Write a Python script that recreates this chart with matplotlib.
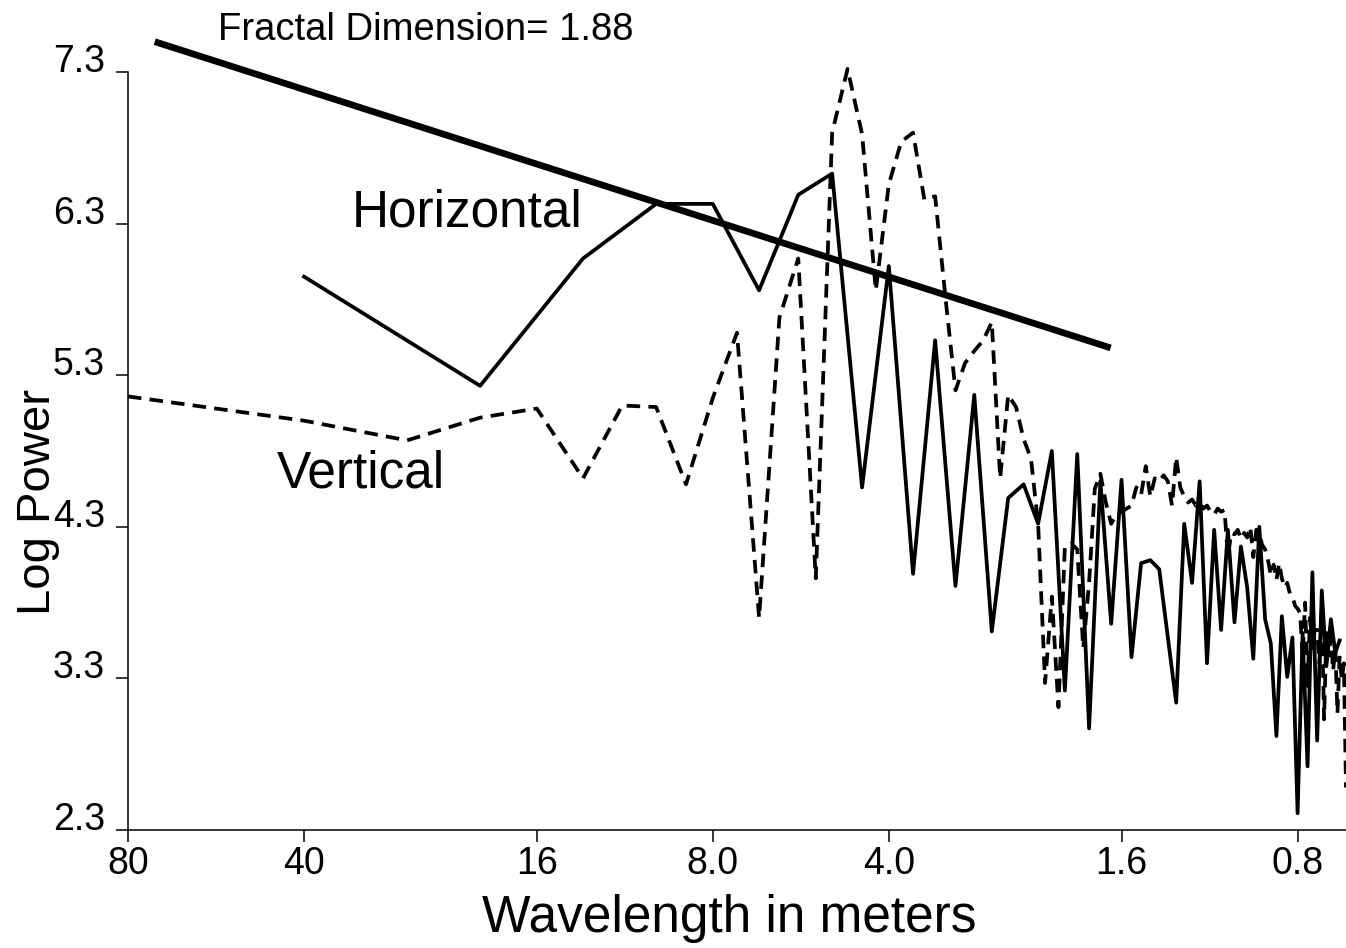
import numpy as np
import matplotlib
matplotlib.use('Agg')
import matplotlib.pyplot as plt
from matplotlib.ticker import NullLocator

plt.rcParams['font.family'] = ['Liberation Sans', 'DejaVu Sans']

# Vertical profile: harmonics 1..121 of an 80 m record
vertical_harm = np.arange(1, 122)
vertical_power = [
    5.16, 5.00, 4.87, 5.02, 5.08, 4.62, 5.10, 5.09, 4.58, 5.15,
    5.58, 3.70, 5.68, 6.07, 3.96, 6.90, 7.32, 6.89, 5.86, 6.56,
    6.84, 6.90, 6.46, 6.48, 5.81, 5.20, 5.38, 5.46, 5.53, 5.65,
    4.62, 5.17, 5.09, 4.88, 4.75, 4.32, 3.27, 3.84, 3.11, 4.17,
    4.19, 4.15, 3.50, 3.93, 4.55, 4.65, 4.46, 4.32, 4.38, 4.40,
    4.42, 4.44, 4.56, 4.51, 4.70, 4.50, 4.62, 4.60, 4.64, 4.60,
    4.44, 4.76, 4.56, 4.50, 4.46, 4.48, 4.44, 4.46, 4.42, 4.44,
    4.40, 4.38, 4.42, 4.40, 4.41, 4.10, 4.26, 4.25, 4.28, 4.22,
    4.26, 4.23, 4.30, 4.10, 4.28, 4.25, 4.18, 4.15, 4.08, 3.98,
    4.05, 3.95, 4.06, 3.96, 3.90, 3.93, 3.86, 3.84, 3.78, 3.76,
    3.73, 3.44, 3.80, 3.25, 3.70, 3.50, 3.62, 3.62, 3.40, 3.75,
    3.03, 3.60, 3.45, 3.57, 3.35, 3.50, 3.07, 3.45, 3.29, 3.40, 2.58]

# Horizontal profile: every second harmonic (40 m record)
horizontal_harm = np.arange(2, 119, 2)
horizontal_power = [
    5.95, 5.23, 6.07, 6.43, 6.43, 5.86, 6.49, 6.63, 4.56, 6.02,
    3.99, 5.53, 3.91, 5.17, 3.61, 4.49, 4.58, 4.32, 4.80, 3.22,
    4.78, 2.97, 4.60, 3.66, 4.61, 3.44, 4.06, 4.08, 4.02, 3.57,
    3.14, 4.32, 3.93, 4.60, 3.40, 4.28, 3.62, 4.28, 3.67, 4.17,
    3.90, 3.43, 4.30, 3.69, 3.53, 2.92, 3.71, 3.31, 3.57, 2.41,
    3.60, 2.72, 4.00, 2.89, 3.88, 3.38, 3.69, 3.47, 3.55]

# fitted line end points
fit_wavelength = [72.0, 1.67]
fit_power = [7.50, 5.48]

xticks = [80, 40, 16, 8, 4, 1.6, 0.8]
xticklabels = ['80', '40', '16', '8.0', '4.0', '1.6', '0.8']
yticks = [2.3, 3.3, 4.3, 5.3, 6.3, 7.3]

vertical_wl = 80.0 / vertical_harm
horizontal_wl = 80.0 / horizontal_harm

W, H = 1346, 948
fig = plt.figure(figsize=(W / 100, H / 100), dpi=100)
ax = fig.add_axes([128 / W, (H - 830) / H, 1 - 128 / W, 830 / H])

ax.plot(fit_wavelength, fit_power, color='black', lw=4.8, solid_capstyle='butt',
        clip_on=False)
ax.plot(horizontal_wl, horizontal_power, color='black', lw=2.7, clip_on=False)
ax.plot(vertical_wl, vertical_power, color='black', lw=2.7, dashes=(3.6, 2.2),
        clip_on=False)

ax.set_xscale('log')
ax.set_xlim(80, 80.0 / 121)
ax.set_ylim(2.3, 2.3 + 830 / 151.6)
ax.xaxis.set_minor_locator(NullLocator())
ax.set_xticks(xticks)
ax.set_xticklabels(xticklabels)
ax.set_yticks(yticks)
ax.set_yticklabels(['%.1f' % v for v in yticks])
for lab in ax.get_yticklabels():
    lab.set_va('baseline')

for s in ['top', 'right']:
    ax.spines[s].set_visible(False)
ax.spines['left'].set_bounds(2.3, 7.3)
ax.spines['left'].set_linewidth(1.1)
ax.spines['bottom'].set_linewidth(1.1)
ax.tick_params(axis='both', direction='out', length=8.6, width=1.1, labelsize=27)
ax.tick_params(axis='y', pad=8)
ax.tick_params(axis='x', pad=3)

ax.text(56.1, 7.51, 'Fractal Dimension= 1.88', fontsize=27.5, ha='left',
        va='baseline', clip_on=False)
ax.text(33.1, 6.28, 'Horizontal', fontsize=37, ha='left', va='baseline')
ax.text(44.5, 4.56, 'Vertical', fontsize=37, ha='left', va='baseline')

fig.text(729 / W, 1 - 932 / H, 'Wavelength in meters', fontsize=37,
         ha='center', va='baseline')
fig.text(60 / W, 1 - 502 / H, 'Log Power', fontsize=34, rotation=90,
         ha='right', va='center')

fig.savefig('out.png', dpi=100)
plt.close(fig)
